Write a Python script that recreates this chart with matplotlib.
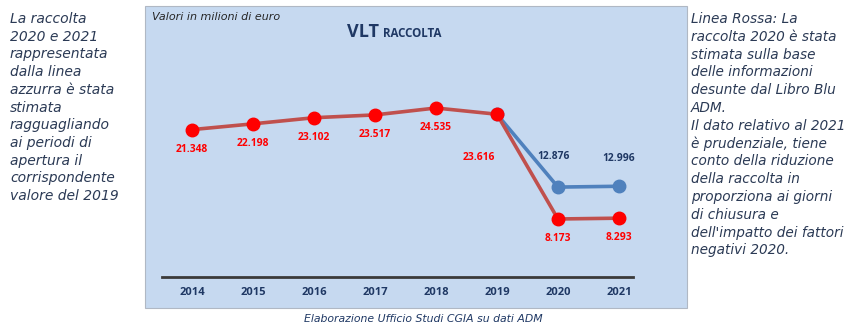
import matplotlib
matplotlib.use("Agg")
import matplotlib.pyplot as plt
from matplotlib.patches import Rectangle

years = ["2014", "2015", "2016", "2017", "2018", "2019", "2020", "2021"]
red_values = [21.348, 22.198, 23.102, 23.517, 24.535, 23.616, 8.173, 8.293]
blue_years = ["2019", "2020", "2021"]
blue_values = [23.616, 12.876, 12.996]
red_labels = ["21.348", "22.198", "23.102", "23.517", "24.535", "23.616", "8.173", "8.293"]
blue_labels = ["12.876", "12.996"]

W, H = 863, 331
fig = plt.figure(figsize=(W / 100, H / 100), dpi=100)
fig.patch.set_facecolor("white")

# panel background
fig.patches.append(Rectangle((145 / W, 1 - 308 / H), (687 - 145) / W, (308 - 6) / H,
                             transform=fig.transFigure, facecolor="#C6D9F0",
                             edgecolor="#B0B8C4", linewidth=0.8, zorder=0))

ax = fig.add_axes([162 / W, 1 - 277 / H, (633 - 162) / W, (277 - 40) / H])
ax.set_zorder(2)
ax.set_facecolor("none")
x = list(range(len(years)))
bx = [years.index(y) for y in blue_years]

navy = "#1F3864"
ax.plot(bx, blue_values, color="#4F81BD", lw=2.6, marker="o", ms=9,
        mfc="#4F81BD", mec="#4F81BD", zorder=2, solid_capstyle="round")
ax.plot(x, red_values, color="#C0504D", lw=2.6, zorder=3)
ax.plot(x, red_values, ls="none", marker="o", ms=9, mfc="#FF0000", mec="#FF0000", zorder=4)

lab_font = dict(fontfamily="Open Sans", fontweight="bold", fontsize=7.4)
for i, (v, t) in enumerate(zip(red_values, red_labels)):
    if years[i] == "2019":
        ax.annotate(t, (i, v), xytext=(-13, -31), textcoords="offset points",
                    ha="center", va="center", color="#FF0000", **lab_font)
    else:
        ax.annotate(t, (i, v), xytext=(0, -14), textcoords="offset points",
                    ha="center", va="center", color="#FF0000", **lab_font)
for (i, v, t) in zip(bx[1:], blue_values[1:], blue_labels):
    off = 22 if years[i] == "2020" else 20
    ax.annotate(t, (i, v), xytext=(-3 if years[i] == "2020" else 0, off), textcoords="offset points",
                ha="center", va="center", color=navy, **lab_font)

ax.set_xlim(-0.49, 7.23)
ax.set_ylim(-0.38, 34.56)
ax.set_xticks(x)
ax.set_xticklabels(years, fontfamily="Open Sans", fontweight="bold", fontsize=8, color=navy)
ax.tick_params(axis="x", length=0, pad=7)
ax.set_yticks([])
for s in ["top", "left", "right"]:
    ax.spines[s].set_visible(False)
ax.spines["bottom"].set_color("#3A3A3A")
ax.spines["bottom"].set_linewidth(2)

# title
fig.text(347 / W, 1 - 32 / H, "VLT", fontfamily="Open Sans", fontweight="bold",
         fontsize=13, color=navy, ha="left", va="center")
fig.text(383 / W, 1 - 33.5 / H, "RACCOLTA", fontfamily="Open Sans", fontweight="bold",
         fontsize=8.3, color=navy, ha="left", va="center")
fig.text(152 / W, 1 - 17 / H, "Valori in milioni di euro", fontfamily="DejaVu Sans",
         style="italic", fontsize=8, color="#262626", ha="left", va="center")

fig.text(423 / W, 1 - 319 / H, "Elaborazione Ufficio Studi CGIA su dati ADM",
         fontfamily="DejaVu Sans", style="italic", fontsize=7.8, color=navy,
         ha="center", va="center")

left_text = ["La raccolta", "2020 e 2021", "rappresentata", "dalla linea",
             "azzurra è stata", "stimata", "ragguagliando", "ai periodi di",
             "apertura il", "corrispondente", "valore del 2019"]
right_text = ["Linea Rossa: La", "raccolta 2020 è stata", "stimata sulla base",
              "delle informazioni", "desunte dal Libro Blu", "ADM.",
              "Il dato relativo al 2021", "è prudenziale, tiene",
              "conto della riduzione", "della raccolta in",
              "proporziona ai giorni", "di chiusura e",
              "dell'impatto dei fattori", "negativi 2020."]
side_col = "#2B3A55"
for k, t in enumerate(left_text):
    fig.text(10 / W, 1 - (19 + 17.7 * k) / H, t, fontfamily="DejaVu Sans", style="italic",
             fontsize=10, color=side_col, ha="left", va="center")
for k, t in enumerate(right_text):
    fig.text(691 / W, 1 - (19 + 17.8 * k) / H, t, fontfamily="DejaVu Sans", style="italic",
             fontsize=9.8, color=side_col, ha="left", va="center")

fig.savefig("out.png", dpi=100)
